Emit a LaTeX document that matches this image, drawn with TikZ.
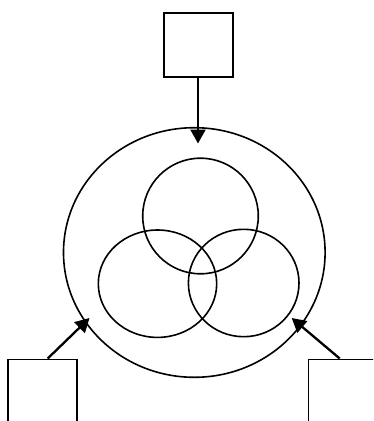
\documentclass[tikz,border=0pt]{standalone}
\usetikzlibrary{shapes.geometric,arrows.meta}
\begin{document}
\begin{tikzpicture}[x=1pt,y=-1pt,
  boxnode/.style={draw,line width=1.6pt,rectangle,inner sep=0pt,minimum width=#1,minimum height=64pt},
  ring/.style={draw,line width=1.6pt,ellipse,inner sep=0pt},
  feed/.style={line width=2.3pt,-{Triangle[length=14pt,width=15pt]}}]
\useasboundingbox (0,0) rectangle (373,421);
\clip (0,0) rectangle (373,421);
\node[boxnode=68.5pt] (tbox) at (198.5,44.8) {};
\node[boxnode=69pt,minimum height=90pt] (lbox) at (42.5,404.3) {};
\node[boxnode=69pt,minimum height=90pt] (rbox) at (343,404.3) {};
\node[ring,minimum width=261.6pt,minimum height=249.6pt] (outer) at (194.3,252.5) {};
\node[ring,minimum width=115.6pt,minimum height=115.6pt] (ctop) at (200.5,216) {};
\node[ring,minimum width=118.4pt,minimum height=107.4pt] (cleft) at (157.5,283.7) {};
\node[ring,minimum width=110.6pt,minimum height=107.4pt] (cright) at (243.7,283) {};
\coordinate (ttip) at (198,143.5);
\coordinate (ltip) at (89.5,318);
\coordinate (rtip) at (291.7,318);
\draw[feed] ([xshift=-0.5pt]tbox.south) -- (ttip);
\draw[feed] ([xshift=40.5pt]lbox.north west) -- (ltip);
\draw[feed] ([xshift=32pt]rbox.north west) -- (rtip);
\end{tikzpicture}
\end{document}
